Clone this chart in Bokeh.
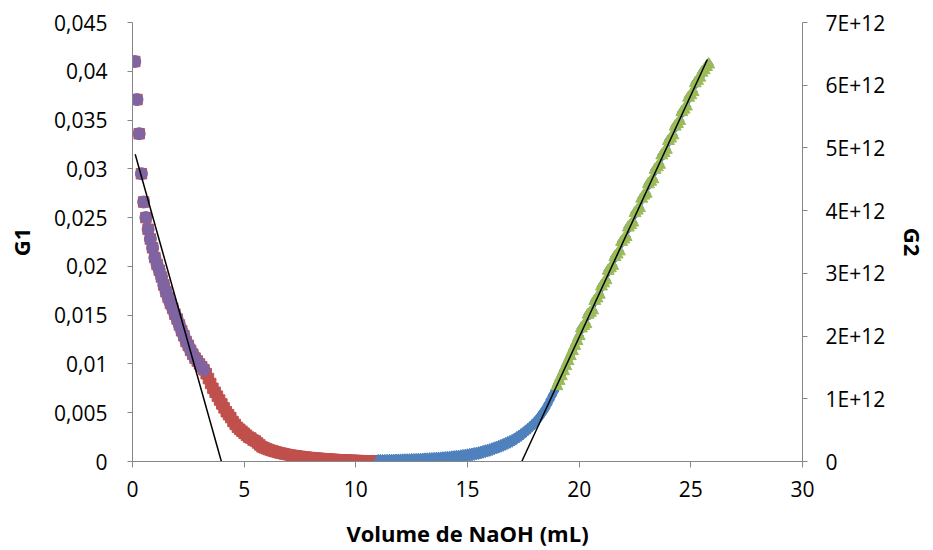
from bokeh.plotting import figure
from bokeh.models import (Range1d, LinearAxis, FixedTicker, CustomJSTickFormatter,
                          ColumnDataSource)
from bokeh.embed import file_html
from bokeh.resources import INLINE

# ---------------- data ----------------
vol_g1 = [0.1, 0.2, 0.3, 0.4, 0.5, 0.6, 0.7, 0.8, 0.9, 1.0,
          1.1, 1.2, 1.3, 1.4, 1.5, 1.6, 1.7, 1.8, 1.9, 2.0,
          2.1, 2.2, 2.3, 2.4, 2.5, 2.6, 2.7, 2.8, 2.9, 3.0,
          3.1, 3.2, 3.3, 3.4, 3.5, 3.6, 3.7, 3.8, 3.9, 4.0,
          4.1, 4.2, 4.3, 4.4, 4.5, 4.6, 4.7, 4.8, 4.9, 5.0,
          5.1, 5.2, 5.3, 5.4, 5.5, 5.6, 5.7, 5.8, 5.9, 6.0,
          6.1, 6.2, 6.3, 6.4, 6.5, 6.6, 6.7, 6.8, 6.9, 7.0,
          7.1, 7.2, 7.3, 7.4, 7.5, 7.6, 7.7, 7.8, 7.9, 8.0,
          8.1, 8.2, 8.3, 8.4, 8.5, 8.6, 8.7, 8.8, 8.9, 9.0,
          9.1, 9.2, 9.3, 9.4, 9.5, 9.6, 9.7, 9.8, 9.9, 10.0,
          10.1, 10.2, 10.3, 10.4, 10.5, 10.6, 10.7, 10.8, 10.9, 11.0]
g1 = [0.0410, 0.0371, 0.0336, 0.0295, 0.0266, 0.0250, 0.0238, 0.0228, 0.0219, 0.0209,
      0.0202, 0.0196, 0.0189, 0.0181, 0.0174, 0.0168, 0.0162, 0.0157, 0.0151, 0.0146,
      0.0140, 0.0134, 0.0129, 0.0123, 0.0119, 0.0114, 0.0110, 0.0106, 0.0103, 0.0100,
      0.0097, 0.0094, 0.0090, 0.0085, 0.0080, 0.0075, 0.0071, 0.0067, 0.0063, 0.0059,
      0.0055, 0.0051, 0.0048, 0.0045, 0.0041, 0.0038, 0.0035, 0.0033, 0.0031, 0.0029,
      0.0027, 0.0025, 0.0024, 0.0022, 0.0021, 0.0019, 0.0017, 0.0015, 0.0014, 0.0013,
      0.00122, 0.00114, 0.00107, 0.00100, 0.00094, 0.00088, 0.00083, 0.00078, 0.00073, 0.00069,
      0.00065, 0.00061, 0.00058, 0.00055, 0.00052, 0.00049, 0.00046, 0.00044, 0.00041, 0.00039,
      0.00037, 0.00035, 0.00033, 0.00031, 0.00029, 0.00027, 0.00026, 0.00024, 0.00023, 0.00021,
      0.00020, 0.00018, 0.00017, 0.00016, 0.00015, 0.00014, 0.00013, 0.00012, 0.00011, 0.00010,
      0.00009, 0.00008, 0.00008, 0.00007, 0.00006, 0.00006, 0.00005, 0.00005, 0.00004, 0.00004]

vol_g2 = [11.0, 11.1, 11.2, 11.3, 11.4, 11.5, 11.6, 11.7, 11.8, 11.9,
          12.0, 12.1, 12.2, 12.3, 12.4, 12.5, 12.6, 12.7, 12.8, 12.9,
          13.0, 13.1, 13.2, 13.3, 13.4, 13.5, 13.6, 13.7, 13.8, 13.9,
          14.0, 14.1, 14.2, 14.3, 14.4, 14.5, 14.6, 14.7, 14.8, 14.9,
          15.0, 15.1, 15.2, 15.3, 15.4, 15.5, 15.6, 15.7, 15.8, 15.9,
          16.0, 16.1, 16.2, 16.3, 16.4, 16.5, 16.6, 16.7, 16.8, 16.9,
          17.0, 17.1, 17.2, 17.3, 17.4, 17.5, 17.6, 17.7, 17.8, 17.9,
          18.0, 18.1, 18.2, 18.3, 18.4, 18.5, 18.6, 18.7, 18.8, 18.9,
          19.0, 19.1, 19.2, 19.3, 19.4, 19.5, 19.6, 19.7, 19.8, 19.9,
          20.0, 20.1, 20.2, 20.3, 20.4, 20.5, 20.6, 20.7, 20.8, 20.9,
          21.0, 21.1, 21.2, 21.3, 21.4, 21.5, 21.6, 21.7, 21.8, 21.9,
          22.0, 22.1, 22.2, 22.3, 22.4, 22.5, 22.6, 22.7, 22.8, 22.9,
          23.0, 23.1, 23.2, 23.3, 23.4, 23.5, 23.6, 23.7, 23.8, 23.9,
          24.0, 24.1, 24.2, 24.3, 24.4, 24.5, 24.6, 24.7, 24.8, 24.9,
          25.0, 25.1, 25.2, 25.3, 25.4, 25.5, 25.6, 25.7, 25.8]
# G2 in units of 1E+12
g2_e12 = [0.010, 0.010, 0.011, 0.011, 0.012, 0.013, 0.014, 0.015, 0.016, 0.017,
          0.018, 0.019, 0.020, 0.021, 0.022, 0.024, 0.025, 0.026, 0.028, 0.030,
          0.032, 0.034, 0.036, 0.038, 0.040, 0.043, 0.045, 0.048, 0.050, 0.053,
          0.056, 0.060, 0.063, 0.067, 0.071, 0.075, 0.079, 0.084, 0.089, 0.094,
          0.100, 0.106, 0.113, 0.120, 0.127, 0.135, 0.144, 0.154, 0.164, 0.174,
          0.185, 0.197, 0.210, 0.223, 0.237, 0.250, 0.265, 0.281, 0.297, 0.313,
          0.330, 0.352, 0.375, 0.398, 0.423, 0.450, 0.480, 0.510, 0.540, 0.575,
          0.610, 0.650, 0.695, 0.745, 0.795, 0.850, 0.915, 0.985, 1.055, 1.125,
          1.200, 1.285, 1.360, 1.440, 1.520, 1.600, 1.680, 1.760, 1.840, 1.920,
          2.000, 2.12, 2.16, 2.19, 2.34, 2.37, 2.41, 2.56, 2.60, 2.66,
          2.79, 2.84, 2.89, 3.04, 3.08, 3.12, 3.26, 3.30, 3.35, 3.50,
          3.54, 3.58, 3.73, 3.77, 3.81, 3.96, 4.00, 4.04, 4.19, 4.24,
          4.27, 4.42, 4.46, 4.50, 4.65, 4.69, 4.73, 4.88, 4.92, 4.97,
          5.11, 5.15, 5.20, 5.34, 5.38, 5.43, 5.57, 5.61, 5.66, 5.80,
          5.84, 5.89, 6.03, 6.07, 6.12, 6.20, 6.24, 6.29, 6.33]
g2 = [v * 1e12 for v in g2_e12]

# fitted (tangent) lines
fit1_x = [0.12, 3.98]
fit1_y = [0.0315, 0.0]
fit2_x = [17.43, 25.74]
fit2_y = [0.0, 6.41e12]

# ranges of the highlighted sub-series
purple_max_vol = 3.25
green_min_vol = 18.95

x_ticks = [0, 5, 10, 15, 20, 25, 30]
x_labels = ["0", "5", "10", "15", "20", "25", "30"]
g1_ticks = [0, 0.005, 0.01, 0.015, 0.02, 0.025, 0.03, 0.035, 0.04, 0.045]
g1_labels = ["0", "0,005", "0,01", "0,015", "0,02", "0,025", "0,03", "0,035", "0,04", "0,045"]
g2_ticks = [0, 1e12, 2e12, 3e12, 4e12, 5e12, 6e12, 7e12]
g2_labels = ["0", "1E+12", "2E+12", "3E+12", "4E+12", "5E+12", "6E+12", "7E+12"]

# ---------------- styling ----------------
FONT = "Open Sans"
FS = "21px"
TFS = "22px"
AXIS_GREY = "#868686"
RED = "#C0504D"
BLUE = "#4F81BD"
GREEN = "#9BBB59"
PURPLE = "#8064A2"

p = figure(width=933, height=550, output_backend="svg", toolbar_location=None,
           x_range=Range1d(0, 30), y_range=Range1d(0, 0.045),
           min_border_left=132, min_border_right=131,
           min_border_top=22, min_border_bottom=89)
p.extra_y_ranges = {"g2": Range1d(0, 7e12)}
p.outline_line_color = None
p.xgrid.visible = False
p.ygrid.visible = False
p.background_fill_color = "white"
p.border_fill_color = "white"

def fmt(tick_values, tick_labels):
    return CustomJSTickFormatter(args=dict(tvals=tick_values, tlabs=tick_labels), code="""
        let best = 0;
        for (let i = 0; i < tvals.length; i++) {
            if (Math.abs(tvals[i] - tick) < Math.abs(tvals[best] - tick)) best = i;
        }
        return tlabs[best];
    """)

def style(ax, tick_values, tick_labels, title, standoff, title_standoff):
    ax.ticker = FixedTicker(ticks=tick_values, minor_ticks=[])
    ax.formatter = fmt(tick_values, tick_labels)
    ax.axis_line_color = AXIS_GREY
    ax.major_tick_line_color = AXIS_GREY
    ax.minor_tick_line_color = None
    ax.major_tick_in = 0
    ax.major_tick_out = 5
    ax.major_label_text_font = FONT
    ax.major_label_text_font_size = FS
    ax.major_label_text_color = "black"
    ax.major_label_standoff = standoff
    ax.axis_label = title
    ax.axis_label_text_font = FONT
    ax.axis_label_text_font_size = TFS
    ax.axis_label_text_font_style = "bold"
    ax.axis_label_text_color = "black"
    ax.axis_label_standoff = title_standoff

style(p.xaxis[0], x_ticks, x_labels, "Volume de NaOH (mL)", 13, 18)
p.xaxis[0].major_tick_out = 6
style(p.yaxis[0], g1_ticks, g1_labels, "G1", 20, 15)

right = LinearAxis(y_range_name="g2")
style(right, g2_ticks, g2_labels, "G2", 18, 10)
p.add_layout(right, "right")

src1 = ColumnDataSource(dict(x=vol_g1, y=g1))
src2 = ColumnDataSource(dict(x=vol_g2, y=g2))
pur = ColumnDataSource(dict(x=[v for v in vol_g1 if v <= purple_max_vol],
                            y=[g for v, g in zip(vol_g1, g1) if v <= purple_max_vol]))
grn = ColumnDataSource(dict(x=[v for v in vol_g2 if v >= green_min_vol],
                            y=[g for v, g in zip(vol_g2, g2) if v >= green_min_vol]))

p.scatter("x", "y", source=src1, marker="square", size=10.5, fill_color=RED, line_color=RED)
p.scatter("x", "y", source=src2, marker="diamond", size=13, fill_color=BLUE, line_color=BLUE,
          y_range_name="g2")
p.scatter("x", "y", source=pur, marker="circle", size=12, fill_color=PURPLE, line_color=PURPLE)
p.scatter("x", "y", source=grn, marker="triangle", size=12, fill_color=GREEN, line_color=GREEN,
          y_range_name="g2")

p.line(fit1_x, fit1_y, line_color="black", line_width=1.5)
p.line(fit2_x, fit2_y, line_color="black", line_width=1.5, y_range_name="g2")

open("out.html", "w").write(file_html(p, INLINE))
